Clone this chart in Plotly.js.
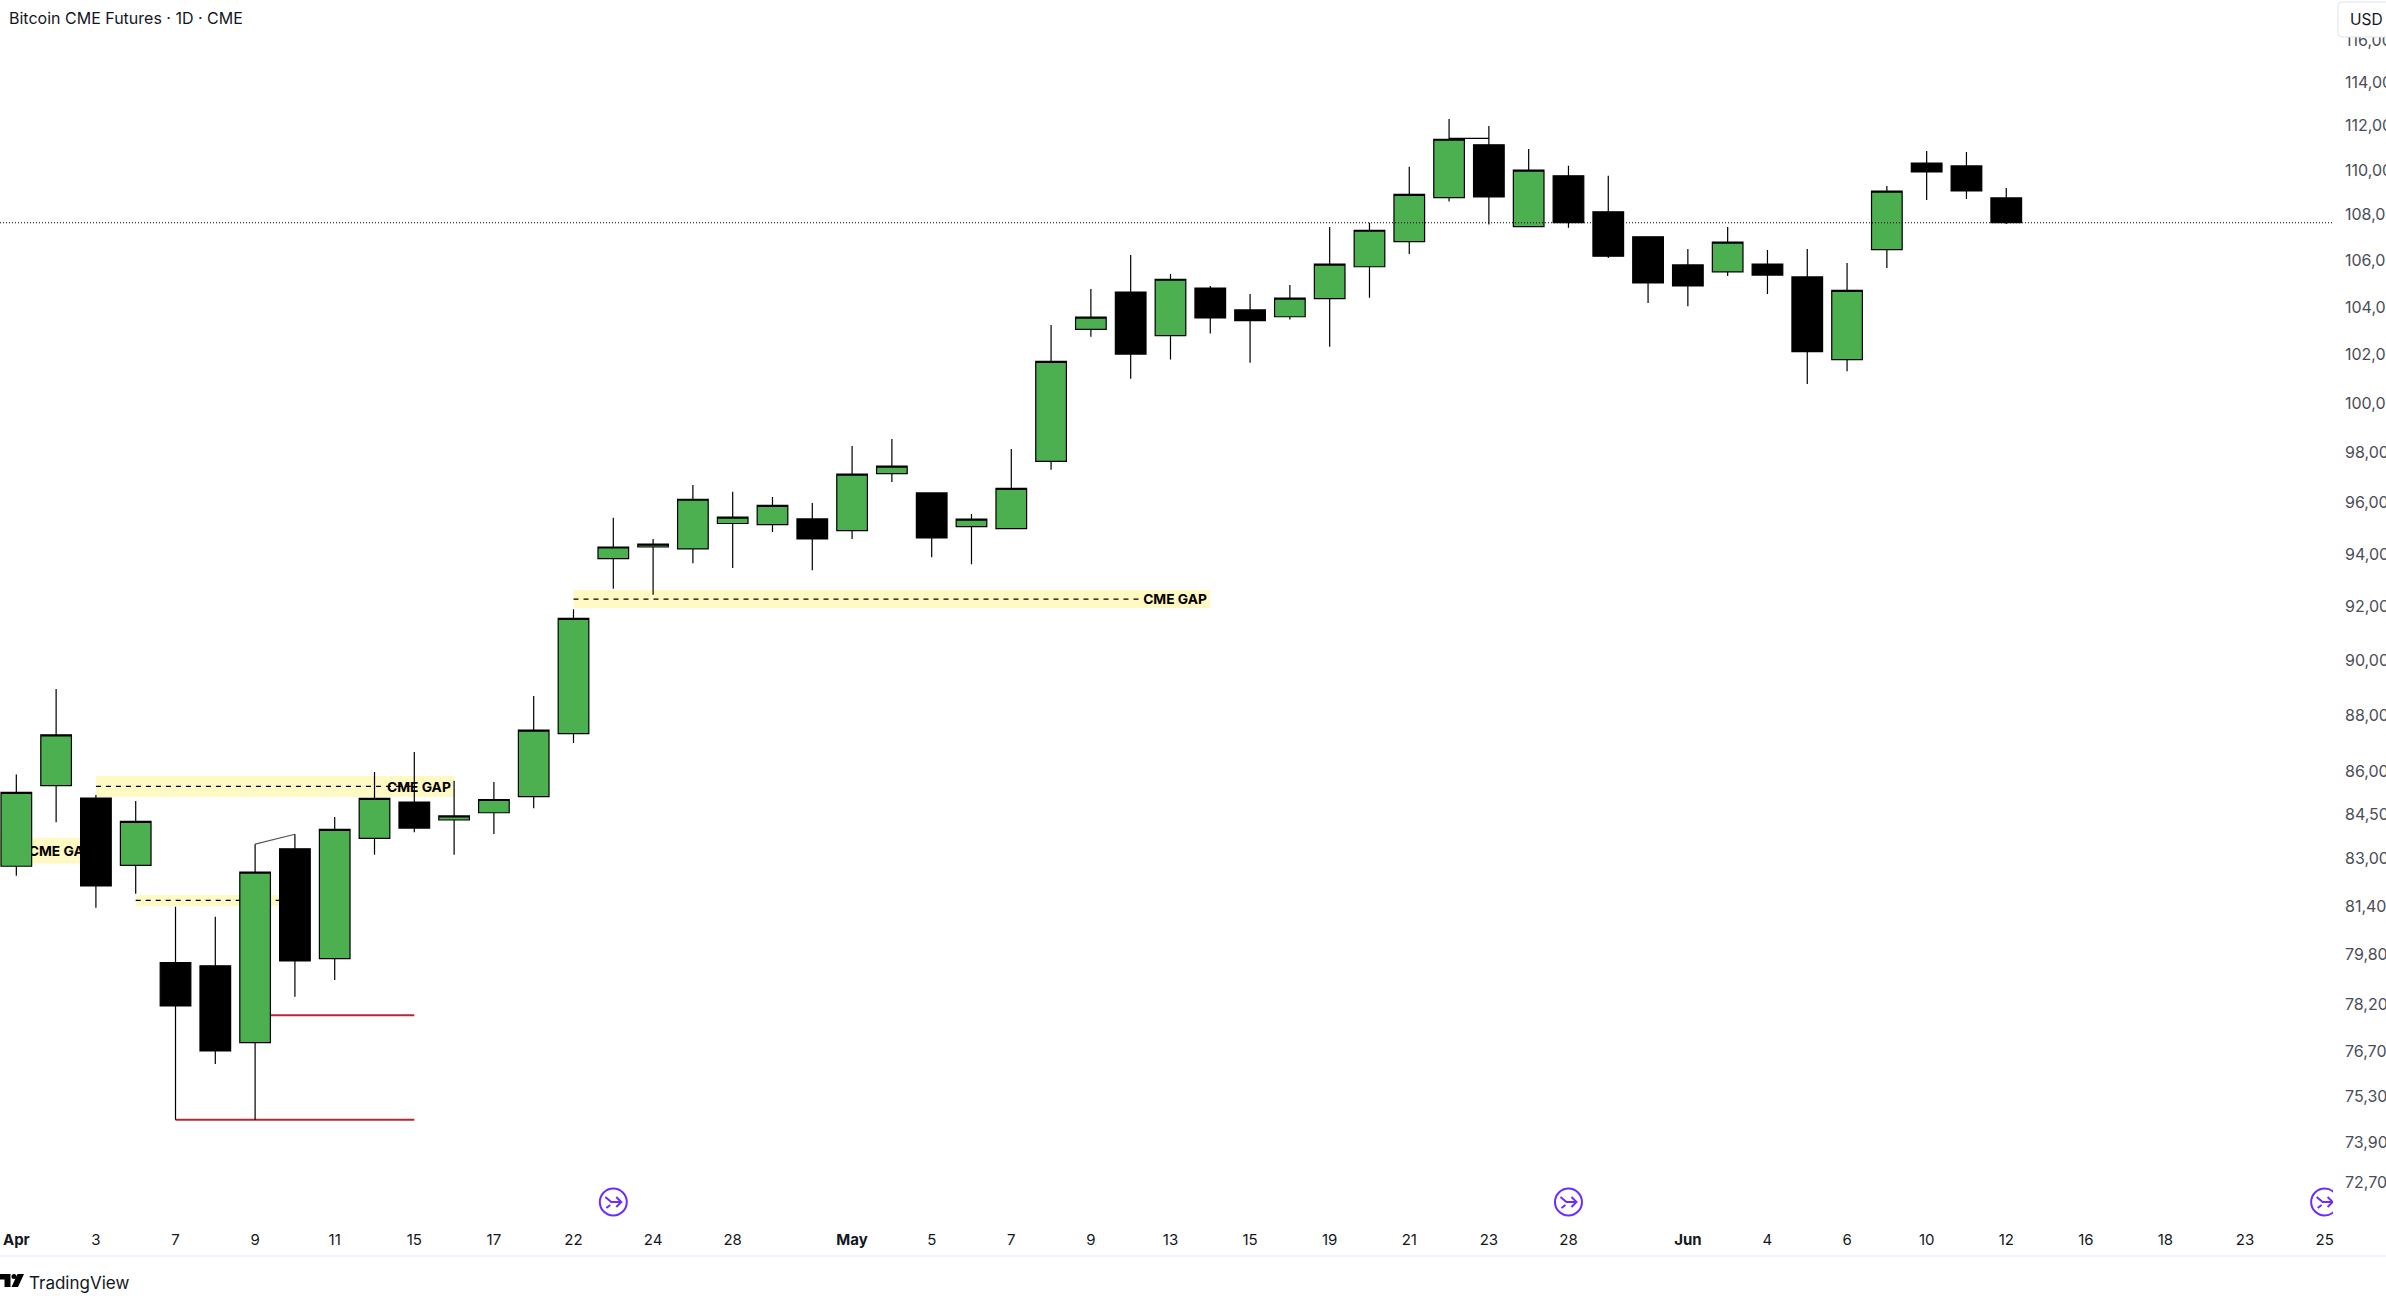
<!DOCTYPE html>
<html>
<head>
<meta charset="utf-8">
<script src="https://cdn.plot.ly/plotly-3.0.1.min.js"></script>
<style>html,body{margin:0;padding:0;background:#fff;overflow:hidden}#chart{width:2386px;height:1304px}</style>
</head>
<body>
<div id="chart"></div>
<script>
const sessions = ["04-01","04-02","04-03","04-04","04-07","04-08","04-09","04-10","04-11","04-14","04-15","04-16","04-17","04-21","04-22","04-23","04-24","04-25","04-28","04-29","04-30","05-01","05-02","05-05","05-06","05-07","05-08","05-09","05-12","05-13","05-14","05-15","05-16","05-19","05-20","05-21","05-22","05-23","05-27","05-28","05-29","05-30","06-02","06-03","06-04","06-05","06-06","06-09","06-10","06-11","06-12"];
const futureSessions = ["06-13","06-16","06-17","06-18","06-20","06-23","06-24","06-25"];
const open  = [82740,85510,85080,82770,79540,79440,76980,83330,79670,83690,84940,84320,84570,85130,87350,93830,94280,94210,95190,95150,95370,94910,97150,96390,95070,94990,97640,103060,104640,102790,104810,103880,103590,104360,105730,106820,108760,111140,107480,109740,108130,107030,105810,105510,105850,105290,101790,106470,110310,110180,108750];
const high  = [85900,88960,85190,84980,81380,81050,83490,83830,84420,85990,86700,85680,85640,88710,91910,95410,94590,96700,96430,96230,95990,98260,98540,96390,95560,98140,103240,104770,106240,105420,104900,104560,104940,107460,107650,110140,112320,112000,110950,110190,109740,107030,106500,107460,106460,106500,105890,109280,110860,110810,109190];
const low   = [82420,84240,81350,81810,74590,76310,74590,78440,78980,83130,83900,83130,83840,84730,87020,92680,92460,93660,93470,94860,93390,94590,96820,93890,93620,94990,97310,102750,101000,101790,102880,101660,103470,102330,104400,106280,108590,107570,107480,107430,106110,104170,104040,105330,104560,100780,101310,105680,108660,108700,107590];
const close = [85280,87310,82080,84270,78150,76720,82540,79600,84000,85070,84040,84460,85030,87480,91570,94280,94390,96140,95440,95900,94590,97130,97450,94630,95360,96570,101720,103570,102020,105190,103540,103420,104380,105840,107320,108910,111390,108790,109990,107650,106190,105030,104900,106800,105370,102120,104710,109050,109910,109060,107650];

const xTickDates  = ["04-01","04-03","04-07","04-09","04-11","04-15","04-17","04-22","04-24","04-28","05-01","05-05","05-07","05-09","05-13","05-15","05-19","05-21","05-23","05-28","06-02","06-04","06-06","06-10","06-12","06-16","06-18","06-23","06-25"];
const xTickLabels = ["<b>Apr</b>","3","7","9","11","15","17","22","24","28","<b>May</b>","5","7","9","13","15","19","21","23","28","<b>Jun</b>","4","6","10","12","16","18","23","25"];
const yTicks = [72700,73900,75300,76700,78200,79800,81400,83000,84500,86000,88000,90000,92000,94000,96000,98000,100000,102000,104000,106000,108000,110000,112000,114000,116000];

const gapLabel = "CME GAP\u00a0";
const gapLow   = [82830,85120,81400,91960];
const gapHigh  = [83710,85850,81770,92640];
const gapFrom  = [-0.41,"04-03","04-04","04-22"];
const gapTo    = ["04-03","04-16","04-10","05-14"];
const dashPrice = [85490,81590,92290];
const dashFrom  = ["04-03","04-04","04-22"];
const dashTo    = ["04-15","04-10",28.2];
const labelDates  = ["04-03","04-16","05-14"];
const labelPrices = [83210,85420,92220];
const redPrice = [77850,74590];
const redFrom  = ["04-09","04-07"];
const redTo    = ["04-15","04-15"];
const linkFrom = [["04-09",83490],["05-22",111430]];
const linkTo   = [["04-10",83830],["05-23",111430]];
const linkColor = ["#555555","#000000"];
const eventDates = ["04-23","05-28","06-25"];

const W = 2386, H = 1304, R = 53, B = 79;
const PW = W - R, PH = H - B;
const px = v => v / PW;
const py = v => 1 - v / PH;
const allSessions = sessions.concat(futureSessions);
const xRange = [-0.41, 58.21];
const yRange = [4.85399, 5.07158];
const green = "#4caf50", purple = "#6b2cff";

const shapes = [];
gapLow.forEach((v,i) => shapes.push({type:"rect",layer:"below",xref:"x",yref:"y",x0:gapFrom[i],x1:gapTo[i],y0:v,y1:gapHigh[i],fillcolor:"#fff9c4",line:{width:0}}));
dashPrice.forEach((v,i) => shapes.push({type:"line",layer:"below",xref:"x",yref:"y",x0:dashFrom[i],x1:dashTo[i],y0:v,y1:v,line:{color:"#000",width:1.2,dash:"5px,5px"}}));
redPrice.forEach((v,i) => shapes.push({type:"line",layer:"below",xref:"x",yref:"y",x0:redFrom[i],x1:redTo[i],y0:v,y1:v,line:{color:"#b22833",width:2}}));
linkFrom.forEach((a,i) => shapes.push({type:"line",layer:"below",xref:"x",yref:"y",x0:a[0],y0:a[1],x1:linkTo[i][0],y1:linkTo[i][1],line:{color:linkColor[i],width:1.2}}));
shapes.push({type:"line",layer:"above",xref:"paper",yref:"y",x0:0,x1:1,y0:close[close.length-1],y1:close[close.length-1],line:{color:"#000",width:1,dash:"1px,2px"}});
eventDates.forEach(d => {
  const base = {xref:"x",yref:"paper",xsizemode:"pixel",ysizemode:"pixel",xanchor:d,yanchor:py(1202),layer:"above"};
  shapes.push(Object.assign({},base,{type:"circle",x0:-13.5,x1:13.5,y0:-13.5,y1:13.5,line:{color:purple,width:2}}));
  shapes.push(Object.assign({},base,{type:"path",path:"M -8 5 L -2 0 L 8 0 M 3 5 L 8 0 L 3 -5 M -7 -6 L -3 -3",line:{color:purple,width:2}}));
});
// chrome: separator, price-scale button, logo
shapes.push({type:"line",xref:"paper",yref:"paper",x0:0,x1:px(W),y0:py(1256),y1:py(1256),line:{color:"#f0f3fa",width:2},layer:"above"});
const P = (x,y) => px(x)+","+py(y);
shapes.push({type:"path",xref:"paper",yref:"paper",layer:"above",fillcolor:"#fff",line:{color:"#e0e3eb",width:1},
  path:"M "+P(2395,2)+" L "+P(2342,2)+" Q "+P(2338,2)+" "+P(2338,6)+" L "+P(2338,33)+" Q "+P(2338,37)+" "+P(2342,37)+" L "+P(2395,37)});
shapes.push({type:"path",xref:"paper",yref:"paper",layer:"above",fillcolor:"#000",line:{width:0},
  path:"M "+P(0,1274)+" L "+P(10.5,1274)+" L "+P(10.5,1287)+" L "+P(4.5,1287)+" L "+P(4.5,1279.5)+" L "+P(0,1279.5)+" Z"});
shapes.push({type:"circle",xref:"paper",yref:"paper",layer:"above",fillcolor:"#000",line:{width:0},x0:px(11.5),x1:px(16.5),y0:py(1274),y1:py(1279)});
shapes.push({type:"path",xref:"paper",yref:"paper",layer:"above",fillcolor:"#000",line:{width:0},
  path:"M "+P(17.5,1274)+" L "+P(24,1274)+" L "+P(18,1287)+" L "+P(11.5,1287)+" Z"});

const annotations = [
  {text:"Bitcoin CME Futures · 1D · CME",x:px(6.5),y:py(18),font:{family:"Inter",size:16,color:"#131722"}},
  {text:"TradingView",x:px(26.5),y:py(1283),font:{family:"Inter",size:17,color:"#131722"}},
  {text:"USD",x:px(2348),y:py(19.5),font:{family:"Inter",size:15.5,color:"#131722"}}
].map(a => Object.assign(a,{xref:"paper",yref:"paper",xanchor:"left",yanchor:"middle",showarrow:false}));

const traces = [
  {type:"scatter",mode:"text",x:labelDates,y:labelPrices,text:labelDates.map(()=>gapLabel),textposition:"middle left",
   textfont:{family:"Inter",size:13.8,color:"#000",weight:700},hoverinfo:"skip",showlegend:false,xaxis:"x",yaxis:"y",cliponaxis:false},
  {type:"candlestick",x:sessions,open:open,high:high,low:low,close:close,xaxis:"x2",yaxis:"y2",whiskerwidth:0,showlegend:false,
   increasing:{line:{color:"#000",width:1.2},fillcolor:green},
   decreasing:{line:{color:"#000",width:1.2},fillcolor:"#000"}}
];

const xCommon = {type:"category",categoryorder:"array",categoryarray:allSessions,range:xRange,fixedrange:true,rangeslider:{visible:false}};
const yCommon = {type:"log",range:yRange,fixedrange:true};

const layout = {
  width:W,height:H,paper_bgcolor:"#fff",plot_bgcolor:"#fff",showlegend:false,
  margin:{l:0,r:R,t:0,b:B,pad:0},boxgap:0.23,boxgroupgap:0,
  font:{family:"Inter",color:"#131722"},
  xaxis:Object.assign({},xCommon,{showgrid:false,zeroline:false,showline:false,ticks:"",tickmode:"array",tickvals:xTickDates,ticktext:xTickLabels,
    tickangle:0,tickfont:{family:"Inter",size:15,color:"#131722"},ticklabelstandoff:4,automargin:false}),
  yaxis:Object.assign({},yCommon,{side:"right",showgrid:false,zeroline:false,showline:false,ticks:"",tickmode:"array",tickvals:yTicks,
    ticktext:yTicks.map(v=>v.toLocaleString("en-US")),tickfont:{family:"Inter",size:16,color:"#4a4d57"},ticklabelstandoff:11,automargin:false}),
  xaxis2:Object.assign({},xCommon,{overlaying:"x",visible:false,anchor:"y2"}),
  yaxis2:Object.assign({},yCommon,{overlaying:"y",side:"right",visible:false,anchor:"x2"}),
  shapes:shapes,annotations:annotations
};
Plotly.newPlot("chart",traces,layout,{displayModeBar:false,staticPlot:true});
</script>
</body>
</html>
